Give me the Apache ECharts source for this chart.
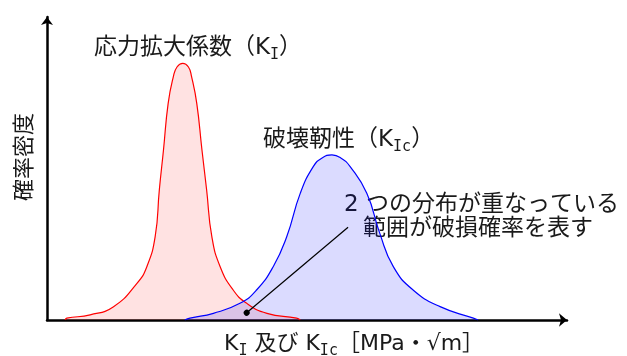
<!DOCTYPE html>
<html>
<head>
<meta charset="utf-8">
<script src="https://cdn.jsdelivr.net/npm/echarts@6/dist/echarts.min.js"></script>
<style>
  html, body { margin: 0; padding: 0; background: #fff; }
  #main { width: 627px; height: 356px; }
</style>
</head>
<body>
<div id="main"></div>
<script>
// 応力拡大係数 K_I の分布（x, 確率密度）
var stressData = [
    [3.5, 0], [3.8, 0.6], [8.3, 1.7], [12.8, 4.4], [17.3, 12.1], [19.2, 17.6],
    [20.8, 27.5], [21.6, 42.9], [22.4, 56.1], [23.3, 71.5], [24.3, 80.3], [25.0, 83.5],
    [26.1, 84.7], [27.2, 83.5], [27.8, 80.3], [28.8, 71.5], [29.8, 56.1], [30.7, 42.9],
    [31.7, 27.5], [33.3, 17.6], [35.8, 9.9], [38.4, 5.5], [42.3, 2.2], [48.0, 0.6], [48.7, 0]
];
// 破壊靭性 K_Ic の分布
var toughData = [
    [26.5, 0], [27.5, 0.6], [32.0, 2.2], [37.1, 5.5], [40.3, 9.9], [43.5, 17.6],
    [46.1, 27.5], [48.7, 41.8], [51.2, 50.6], [52.9, 53.5], [54.8, 54.5], [56.5, 53.5],
    [58.3, 50.6], [61.5, 41.8], [64.0, 28.6], [66.6, 17.6], [70.4, 9.9], [75.6, 4.4],
    [82.0, 0.6], [82.9, 0]
];
// 注釈線（重なり部分 → 説明文）
var noteFrom = [38.4, 2.4];
var noteTo = [57.9, 30.6];

var font = '"DejaVu Sans", "Noto Sans CJK JP", sans-serif';
var subFont = '"DejaVu Sans Mono", "DejaVu Sans", sans-serif';
var textColor = '#1a1a1a';

// 下付き文字入りのテキスト
function richText(x, y, text, size) {
    return {
        type: 'text',
        x: x,
        y: y,
        style: {
            text: text,
            fill: textColor,
            textAlign: 'left', align: 'left',
            textVerticalAlign: 'middle', verticalAlign: 'middle',
            rich: {
                m: {fontSize: size, fontFamily: font, lineHeight: 30, fill: textColor},
                s: {fontSize: 15, fontFamily: subFont, lineHeight: 12, verticalAlign: 'bottom', fill: textColor}
            }
        }
    };
}

var myChart = echarts.init(document.getElementById('main'));
var option = {
    animation: false,
    grid: {left: 47, right: 60, top: 17, bottom: 36},
    xAxis: {
        type: 'value', min: 0, max: 100,
        axisLine: {
            show: true, symbol: ['none', 'arrow'], symbolSize: [10, 8],
            lineStyle: {color: '#000', width: 2.5}
        },
        axisTick: {show: false}, axisLabel: {show: false}, splitLine: {show: false}
    },
    yAxis: {
        type: 'value', min: 0, max: 100,
        axisLine: {
            show: true, symbol: ['none', 'arrow'], symbolSize: [9, 8],
            lineStyle: {color: '#000', width: 2.5}
        },
        axisTick: {show: false}, axisLabel: {show: false}, splitLine: {show: false}
    },
    series: [
        {
            name: 'KI', type: 'line', data: stressData,
            smooth: 0.5, showSymbol: false,
            lineStyle: {color: '#ff0000', width: 1.2},
            areaStyle: {color: 'rgba(255,0,0,0.16)'}
        },
        {
            name: 'KIc', type: 'line', data: toughData,
            smooth: 0.5, showSymbol: false,
            lineStyle: {color: '#0000ff', width: 1.2},
            areaStyle: {color: 'rgba(0,0,255,0.2)'},
            markLine: {
                silent: true, animation: false,
                symbol: ['circle', 'none'], symbolSize: 6,
                label: {show: false},
                lineStyle: {color: '#000', width: 1.2, type: 'solid'},
                itemStyle: {color: '#000'},
                data: [[{coord: noteFrom}, {coord: noteTo}]]
            }
        }
    ],
    graphic: [
        richText(94, 48, '{m|応力拡大係数（K}{s|I}{m|）}', 23),
        richText(263, 140, '{m|破壊靭性（K}{s|Ic}{m|）}', 23),
        richText(344, 205, '{m|2 つの分布が重なっている}', 23),
        richText(363, 229, '{m|範囲が破損確率を表す}', 23),
        richText(224, 344, '{m|K}{s|I}{m| 及び K}{s|Ic}{m|［MPa・√m］}', 22),
        {
            type: 'text', x: 25, y: 157, rotation: Math.PI / 2,
            style: {
                text: '確率密度', fill: textColor,
                font: '22px ' + font,
                textAlign: 'center', align: 'center',
                textVerticalAlign: 'middle', verticalAlign: 'middle'
            }
        }
    ]
};
myChart.setOption(option);
</script>
</body>
</html>
